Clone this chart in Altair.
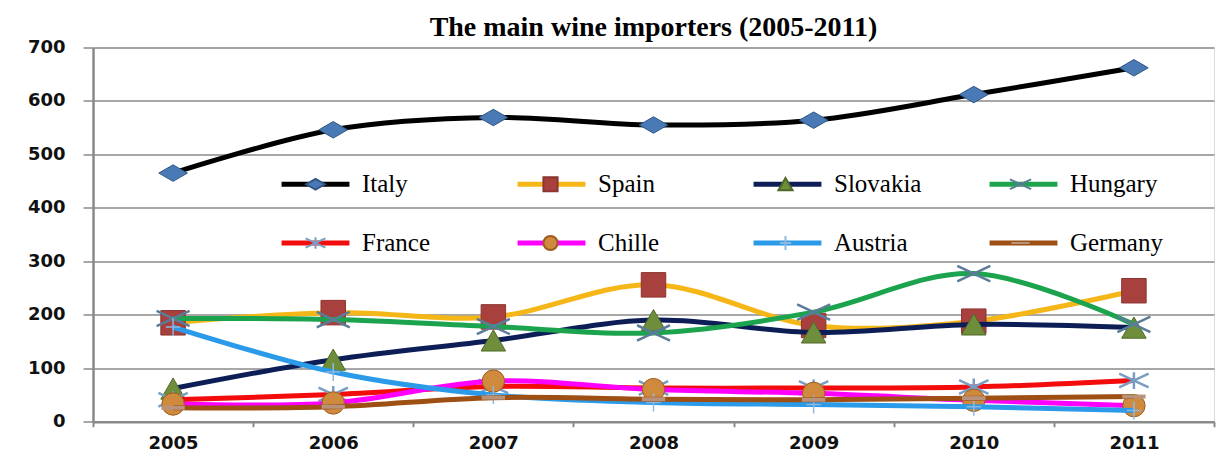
import altair as alt
import pandas as pd

years = ["2005", "2006", "2007", "2008", "2009", "2010", "2011"]
countries = ["Italy", "Spain", "Slovakia", "Hungary", "France", "Chille", "Austria", "Germany"]

italy = [465, 546, 569, 555, 564, 612, 662]
spain = [185, 204, 196, 256, 180, 188, 245]
slovakia = [62, 116, 152, 190, 167, 182, 176]
hungary = [193, 191, 178, 166, 205, 277, 182]
france = [41, 51, 66, 63, 63, 65, 77]
chille = [33, 35, 76, 60, 53, 40, 30]
austria = [177, 93, 50, 36, 32, 28, 21]
germany = [26, 28, 45, 42, 41, 44, 47]
series = [italy, spain, slovakia, hungary, france, chille, austria, germany]

y_ticks = [0, 100, 200, 300, 400, 500, 600, 700]

# styles
line_colors = ["#000000", "#F5B618", "#0D1E56", "#1CA34D", "#F20C0C", "#FF00FF", "#2B9AE8", "#9E4F14"]
marker_fills = ["#4A7AB5", "#A8413D", "#6F8E3B", "#5B7C99", "#7A9DC3", "#D08A3E", "#A8CBEA", "#C4A288"]
marker_strokes = ["#2F5685", "#8C3431", "#4F6A28", "#5B7C99", "#7A9DC3", "#9C5B1F", "#8DB8E0", "#B8937A"]
marker_shapes = [
    "M-1.3,0L0,-0.75L1.3,0L0,0.75Z",
    "square",
    "triangle-up",
    "M-1.5,-0.7L1.5,0.7M-1.5,0.7L1.5,-0.7",
    "M-1.4,-0.65L1.4,0.65M-1.4,0.65L1.4,-0.65M0,-0.8L0,0.8",
    "circle",
    "M-0.8,0L0.8,0M0,-1L0,1",
    "M-1.3,0L1.3,0",
]
marker_sizes = [484, 600, 600, 484, 441, 500, 324, 324]
marker_sw = [1, 1, 1, 2.5, 2.5, 1, 1.5, 4]

rows = []
for c, vals in zip(countries, series):
    for yr, v in zip(years, vals):
        rows.append({"Year": yr, "Country": c, "Marker": c + "\u200b", "Value": v})
df = pd.DataFrame(rows)
markers = [c + "\u200b" for c in countries]

X = alt.X(
    "Year:O",
    title=None,
    bandPosition=0.5,
    scale=alt.Scale(type="band", domain=years, paddingInner=0, paddingOuter=0),
    axis=alt.Axis(
        tickBand="extent", labelAngle=0, labelFont="DejaVu Sans", labelFontWeight="bold",
        labelFontSize=18, labelColor="#111111", labelPadding=8, tickSize=5,
        tickColor="#8a8a8a", tickWidth=2, domainColor="#8a8a8a", domainWidth=2.5,
        grid=False,
    ),
)
Y = alt.Y(
    "Value:Q",
    title=None,
    scale=alt.Scale(domain=[0, 700], nice=False),
    axis=alt.Axis(
        values=y_ticks, labelFont="DejaVu Sans", labelFontWeight="bold", labelFontSize=18,
        labelColor="#111111", labelPadding=18, tickSize=10, tickColor="#8a8a8a", tickWidth=1.5,
        domainColor="#8a8a8a", domainWidth=2.5, gridColor="#8a8a8a", gridWidth=1.5,
    ),
)

legend_common = dict(
    title=None, orient="none", legendX=188, legendY=124, columns=4, direction="horizontal",
    gridAlign="all", symbolSize=200, symbolOffset=22, labelOffset=34,
    rowPadding=33, labelFont="Liberation Serif", labelFontSize=25, labelLimit=300,
)
legend_a = alt.Legend(
    symbolType="M-4.8,0L4.8,0", symbolStrokeWidth=5, labelColor="#000000",
    columnPadding=51, **legend_common
)
legend_b = alt.Legend(
    symbolStrokeWidth=2, labelExpr="''", columnPadding=154, **legend_common
)

color_enc = alt.Color("Country:N", scale=alt.Scale(domain=countries, range=line_colors), legend=legend_a)
shape_enc = alt.Shape("Marker:N", scale=alt.Scale(domain=markers, range=marker_shapes), legend=legend_b)
fill_enc = alt.Fill("Marker:N", scale=alt.Scale(domain=markers, range=marker_fills), legend=legend_b)
stroke_enc = alt.Stroke("Marker:N", scale=alt.Scale(domain=markers, range=marker_strokes), legend=legend_b)

layers = []
for i, c in enumerate(countries):
    base = alt.Chart(df).transform_filter(alt.datum.Country == c)
    line = base.mark_line(interpolate="cardinal", strokeWidth=5).encode(x=X, y=Y, color=color_enc)
    pts = base.mark_point(
        filled=True, size=marker_sizes[i], strokeWidth=marker_sw[i], opacity=1
    ).encode(x=X, y=Y, shape=shape_enc, fill=fill_enc, stroke=stroke_enc)
    layers += [line, pts]

chart = alt.layer(*layers).properties(
    width=1121,
    height=374.2,
    title=alt.Title(
        "The main wine importers (2005-2011)", font="Liberation Serif", fontSize=28,
        fontWeight="bold", color="#000000", anchor="middle", offset=-4,
    ),
    autosize=alt.AutoSizeParams(type="none"),
    padding={"left": 93, "top": 47.5, "right": 4, "bottom": 31},
).configure_view(stroke=None).configure(background="white")

chart.save("out.html", embed_options={"renderer": "svg", "actions": False})
